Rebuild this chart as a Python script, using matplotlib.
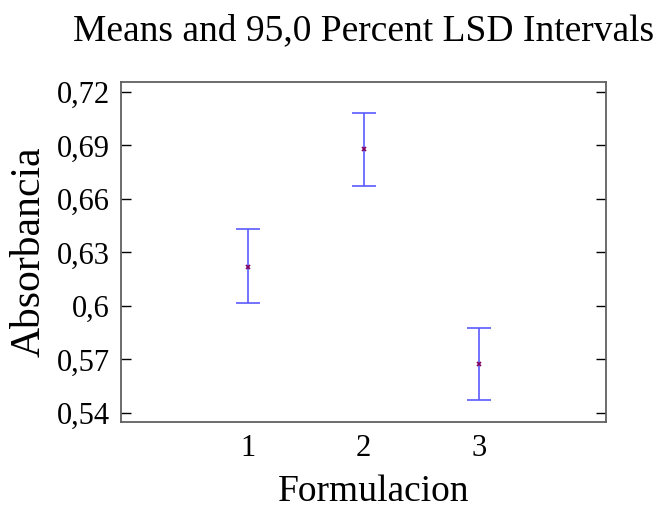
import matplotlib
matplotlib.use("Agg")
import matplotlib.pyplot as plt
from matplotlib.ticker import FuncFormatter

# data
groups = [1, 2, 3]
means = [0.622, 0.6878, 0.5676]
lower = [0.6015, 0.6671, 0.5473]
upper = [0.6429, 0.708, 0.5878]
yticks = [0.54, 0.57, 0.60, 0.63, 0.66, 0.69, 0.72]


def comma(v, pos):
    s = f"{v:.2f}".rstrip("0").rstrip(".")
    return s.replace(".", ",")


def main():
    plt.rcParams["font.family"] = ["Liberation Serif", "DejaVu Serif"]
    fig = plt.figure(figsize=(6.66, 5.09), dpi=100)
    ax = fig.add_axes([0.1817, 0.171, 0.7283, 0.668])

    err_lo = [m - lo for m, lo in zip(means, lower)]
    err_hi = [hi - m for m, hi in zip(means, upper)]
    ax.errorbar(groups, means, yerr=[err_lo, err_hi], fmt="none",
                ecolor="#5a5aff", elinewidth=1.2, capsize=8.3,
                capthick=1.2)
    ax.plot(groups, means, "x", color="#800060", markersize=3,
            markeredgewidth=1.2)

    ax.set_xlim(-0.1, 4.1)
    ax.set_ylim(0.5349, 0.7256)
    ax.set_xticks(groups)
    ax.set_yticks(yticks)
    ax.yaxis.set_major_formatter(FuncFormatter(comma))
    ax.tick_params(axis="x", length=0, labelsize=22, pad=9)
    ax.tick_params(axis="y", direction="in", length=7, width=1,
                   labelsize=22, pad=8, right=True, color="black")
    for sp in ax.spines.values():
        sp.set_color("#606060")
        sp.set_linewidth(1.3)

    ax.set_title("Means and 95,0 Percent LSD Intervals", fontsize=27,
                 pad=30)
    ax.set_xlabel("Formulacion", fontsize=27)
    ax.xaxis.set_label_coords(0.52, -0.155)
    ax.set_ylabel("Absorbancia", fontsize=30, labelpad=6)

    fig.savefig("out.png", dpi=100)


if __name__ == "__main__":
    main()
